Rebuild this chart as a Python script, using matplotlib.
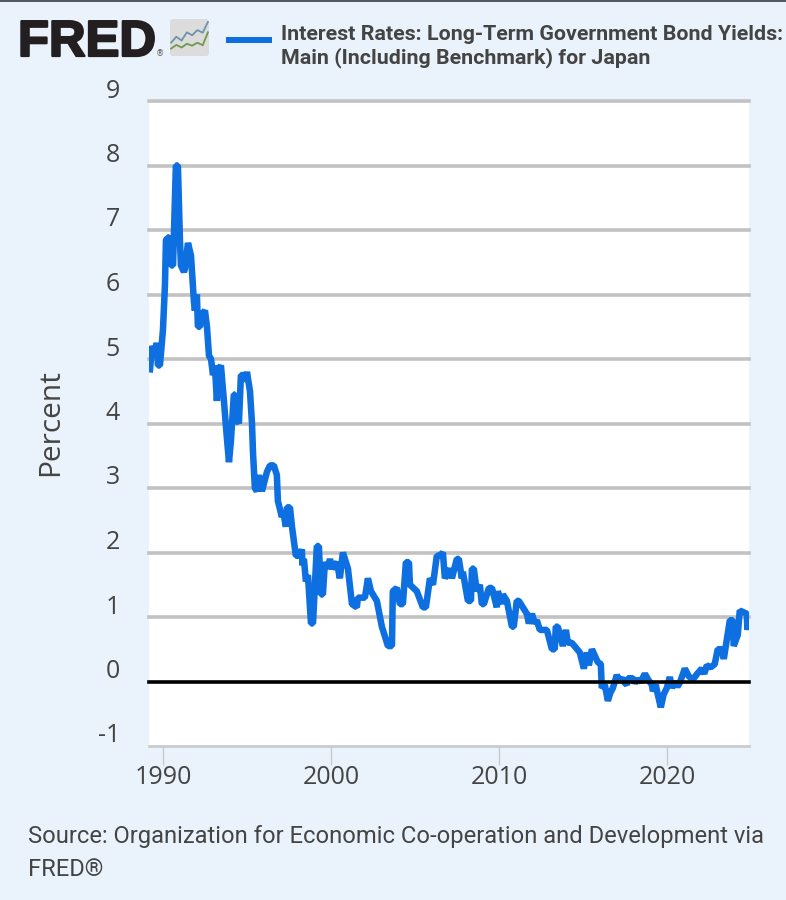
#!/usr/bin/env python3
"""FRED chart: long-term government bond yields for Japan"""

import matplotlib
matplotlib.use('Agg')
import matplotlib.pyplot as plt
import matplotlib.patheffects as pe
from matplotlib.patches import FancyBboxPatch

# values
years = [
    1989.23, 1989.35, 1989.52, 1989.64, 1989.70, 1989.82, 1990.00, 1990.12, 1990.18, 1990.42,
    1990.48, 1990.60, 1990.71, 1990.77, 1990.89, 1991.01, 1991.07, 1991.25, 1991.31, 1991.49,
    1991.67, 1991.84, 1991.90, 1992.02, 1992.08, 1992.20, 1992.32, 1992.50, 1992.62, 1992.74,
    1992.86, 1992.98, 1993.09, 1993.21, 1993.33, 1993.45, 1993.63, 1993.75, 1993.93, 1994.05,
    1994.22, 1994.28, 1994.40, 1994.52, 1994.64, 1994.82, 1994.88, 1995.00, 1995.18, 1995.30,
    1995.36, 1995.47, 1995.59, 1995.71, 1995.89, 1996.19, 1996.37, 1996.60, 1996.78, 1996.84,
    1997.08, 1997.14, 1997.32, 1997.38, 1997.56, 1997.68, 1997.91, 1998.15, 1998.27, 1998.30,
    1998.39, 1998.51, 1998.63, 1998.81, 1998.93, 1999.16, 1999.28, 1999.40, 1999.52, 1999.64,
    1999.82, 1999.94, 2000.06, 2000.35, 2000.53, 2000.71, 2001.01, 2001.25, 2001.54, 2001.60,
    2002.02, 2002.20, 2002.38, 2002.73, 2003.03, 2003.39, 2003.63, 2003.68, 2003.92, 2004.10,
    2004.28, 2004.46, 2004.64, 2004.70, 2005.11, 2005.47, 2005.65, 2005.89, 2006.07, 2006.30,
    2006.48, 2006.66, 2006.78, 2007.08, 2007.20, 2007.49, 2007.61, 2007.79, 2007.85, 2008.15,
    2008.33, 2008.39, 2008.50, 2008.68, 2008.86, 2008.98, 2009.10, 2009.40, 2009.58, 2009.87,
    2009.93, 2010.17, 2010.23, 2010.47, 2010.77, 2010.88, 2011.06, 2011.18, 2011.66, 2011.78,
    2011.96, 2012.13, 2012.25, 2012.43, 2012.55, 2012.85, 2013.15, 2013.32, 2013.38, 2013.50,
    2013.80, 2013.98, 2014.10, 2014.33, 2014.81, 2015.05, 2015.23, 2015.35, 2015.53, 2015.88,
    2016.06, 2016.12, 2016.30, 2016.48, 2016.62, 2016.78, 2017.01, 2017.16, 2017.31, 2017.48,
    2017.61, 2017.67, 2017.97, 2018.10, 2018.26, 2018.45, 2018.68, 2018.90, 2019.10, 2019.16,
    2019.33, 2019.45, 2019.63, 2019.80, 2019.99, 2020.17, 2020.29, 2020.46, 2020.62, 2020.76,
    2021.06, 2021.30, 2021.54, 2021.80, 2022.07, 2022.22, 2022.37, 2022.60, 2022.84, 2023.02,
    2023.26, 2023.38, 2023.74, 2023.92, 2023.97, 2024.21, 2024.33, 2024.75, 2024.78, 2024.87,
]
rates = [
    4.84, 5.20, 5.10, 5.25, 4.90, 4.90, 5.45, 6.15, 6.85, 6.90,
    6.45, 6.45, 7.47, 8.00, 8.00, 6.85, 6.45, 6.35, 6.40, 6.80,
    6.60, 5.90, 5.75, 6.00, 5.50, 5.50, 5.70, 5.75, 5.50, 5.05,
    5.00, 4.75, 4.90, 4.35, 4.85, 4.90, 4.35, 3.95, 3.40, 3.75,
    4.45, 4.45, 4.05, 4.00, 4.75, 4.75, 4.65, 4.80, 4.50, 4.00,
    3.55, 3.00, 2.95, 3.20, 2.95, 3.25, 3.35, 3.35, 3.20, 2.80,
    2.55, 2.65, 2.40, 2.70, 2.70, 2.40, 1.95, 1.95, 2.05, 1.80,
    1.90, 1.55, 1.65, 0.90, 0.90, 2.10, 2.10, 1.35, 1.35, 1.85,
    1.75, 1.90, 1.75, 1.85, 1.60, 2.00, 1.75, 1.20, 1.15, 1.30,
    1.30, 1.60, 1.40, 1.25, 0.85, 0.55, 0.55, 1.40, 1.45, 1.20,
    1.20, 1.85, 1.85, 1.50, 1.40, 1.15, 1.15, 1.60, 1.50, 1.95,
    1.95, 2.00, 1.60, 1.75, 1.60, 1.90, 1.90, 1.60, 1.70, 1.25,
    1.25, 1.75, 1.75, 1.40, 1.50, 1.20, 1.20, 1.45, 1.45, 1.15,
    1.40, 1.20, 1.35, 1.25, 0.85, 0.85, 1.25, 1.25, 1.05, 0.90,
    1.05, 0.90, 0.95, 0.80, 0.80, 0.80, 0.50, 0.50, 0.85, 0.85,
    0.55, 0.80, 0.60, 0.60, 0.45, 0.20, 0.45, 0.25, 0.50, 0.30,
    0.27, -0.10, -0.05, -0.30, -0.18, -0.10, 0.10, 0.02, 0.05, -0.02,
    -0.05, 0.05, 0.05, -0.02, 0.03, 0.00, 0.12, 0.02, -0.05, -0.15,
    -0.05, -0.20, -0.40, -0.20, -0.10, 0.07, -0.10, 0.00, -0.08, -0.02,
    0.20, 0.08, 0.03, 0.12, 0.20, 0.12, 0.25, 0.22, 0.27, 0.50,
    0.50, 0.35, 0.95, 0.95, 0.55, 0.72, 1.10, 1.05, 0.80, 0.95,
]
y_ticks = [9, 8, 7, 6, 5, 4, 3, 2, 1, 0, -1]
x_ticks = [1990, 2000, 2010, 2020]

# little chart in the logo
icon_x = [0, 1, 2, 3, 4, 5, 6, 7]
icon_blue = [3.6, 5.2, 4.2, 6.4, 5.6, 7.0, 6.3, 9.2]
icon_green = [2.0, 3.0, 2.3, 3.3, 2.8, 3.6, 2.9, 6.4]

BG = '#EAF2FB'
TEXT = '#444444'
BLUE = '#0D6FE0'
W, H = 786, 900

fig = plt.figure(figsize=(W / 100, H / 100), dpi=100, facecolor=BG)

# dark strip along the top edge of the screenshot
fig.add_artist(plt.Rectangle((0, 1 - 1.5 / H), 1, 1.5 / H, transform=fig.transFigure,
                             color='#555B60', lw=0))

ax = fig.add_axes([149 / W, 1 - 746 / H, 600 / W, 645 / H])
ax.set_xlim(1989.17, 2024.88)
ax.set_ylim(-1, 9)
ax.set_facecolor('white')
for side in ['left', 'right', 'top']:
    ax.spines[side].set_visible(False)
ax.spines['bottom'].set_color('#C8CCD0')
ax.spines['bottom'].set_linewidth(2)

# grid lines, zero line in black on top of the series
for v in y_ticks:
    if v == -1:
        continue
    if v == 0:
        ax.axhline(v, color='black', lw=2.6, zorder=3, clip_on=False)
    else:
        ax.axhline(v, color='#C2C2C2', lw=2.6, zorder=1, clip_on=False)

ax.plot(years, rates, color=BLUE, lw=4.7, solid_joinstyle='bevel', zorder=2)

ax.set_yticks([])
ax.set_xticks(x_ticks)
ax.tick_params(axis='x', length=14, width=1, color='#C8CCD0', pad=0, labelcolor=TEXT)
for lab in ax.get_xticklabels():
    lab.set_fontfamily('Open Sans')
    lab.set_fontsize(18)

# FRED puts the y labels above the grid lines
for v in y_ticks:
    ax.annotate(str(v), (0, v), xycoords=('axes fraction', 'data'), xytext=(-29, 10),
                textcoords='offset pixels', ha='right', va='center',
                fontsize=18, family='Open Sans', color=TEXT, annotation_clip=False)

fig.text(51 / W, 1 - 423 / H, 'Percent', rotation=90, ha='center', va='center',
         fontsize=21.5, family='Open Sans', color=TEXT)

# header
logo = fig.text(18 / W, 1 - 56 / H, 'FRED', ha='left', va='baseline', fontsize=36.5,
                family='Liberation Sans', weight='bold', color='#231F20')
logo.set_path_effects([pe.withStroke(linewidth=1.6, foreground='#231F20')])
fig.text(156 / W, 1 - 56 / H, '®', ha='left', va='baseline', fontsize=6,
         family='DejaVu Sans', color='#555555')

fig.add_artist(FancyBboxPatch((170 / W, 1 - 56 / H), 39 / W, 37 / H, transform=fig.transFigure,
                              boxstyle='round,pad=0,rounding_size=0.004',
                              facecolor='#DCDCDC', edgecolor='none', zorder=-1))
icon = fig.add_axes([170 / W, 1 - 56 / H, 39 / W, 37 / H])
icon.patch.set_alpha(0)
icon.set_xticks([])
icon.set_yticks([])
for s in icon.spines.values():
    s.set_visible(False)
icon.plot(icon_x, icon_blue, color='#6E93A8', lw=1.3)
icon.plot(icon_x, icon_green, color='#6F9A4A', lw=1.3)
icon.set_xlim(-0.2, 7.2)
icon.set_ylim(0, 10)

fig.add_artist(plt.Rectangle((226 / W, 1 - 43 / H), 46 / W, 6 / H, transform=fig.transFigure,
                             color=BLUE, lw=0))
fig.text(281 / W, 1 - 34 / H, 'Interest Rates: Long-Term Government Bond Yields:',
         ha='left', va='center', fontsize=15.4, family='Roboto', weight='bold', color=TEXT)
fig.text(281 / W, 1 - 58 / H, 'Main (Including Benchmark) for Japan',
         ha='left', va='center', fontsize=15.4, family='Roboto', weight='bold', color=TEXT)

# footer
fig.text(28 / W, 1 - 837 / H, 'Source: Organization for Economic Co-operation and Development via',
         ha='left', va='center', fontsize=17.1, family='Roboto', color=TEXT)
fig.text(28 / W, 1 - 869 / H, 'FRED®', ha='left', va='center', fontsize=17.1,
         family='Roboto', color=TEXT)

fig.savefig('out.png', dpi=100, facecolor=BG)
